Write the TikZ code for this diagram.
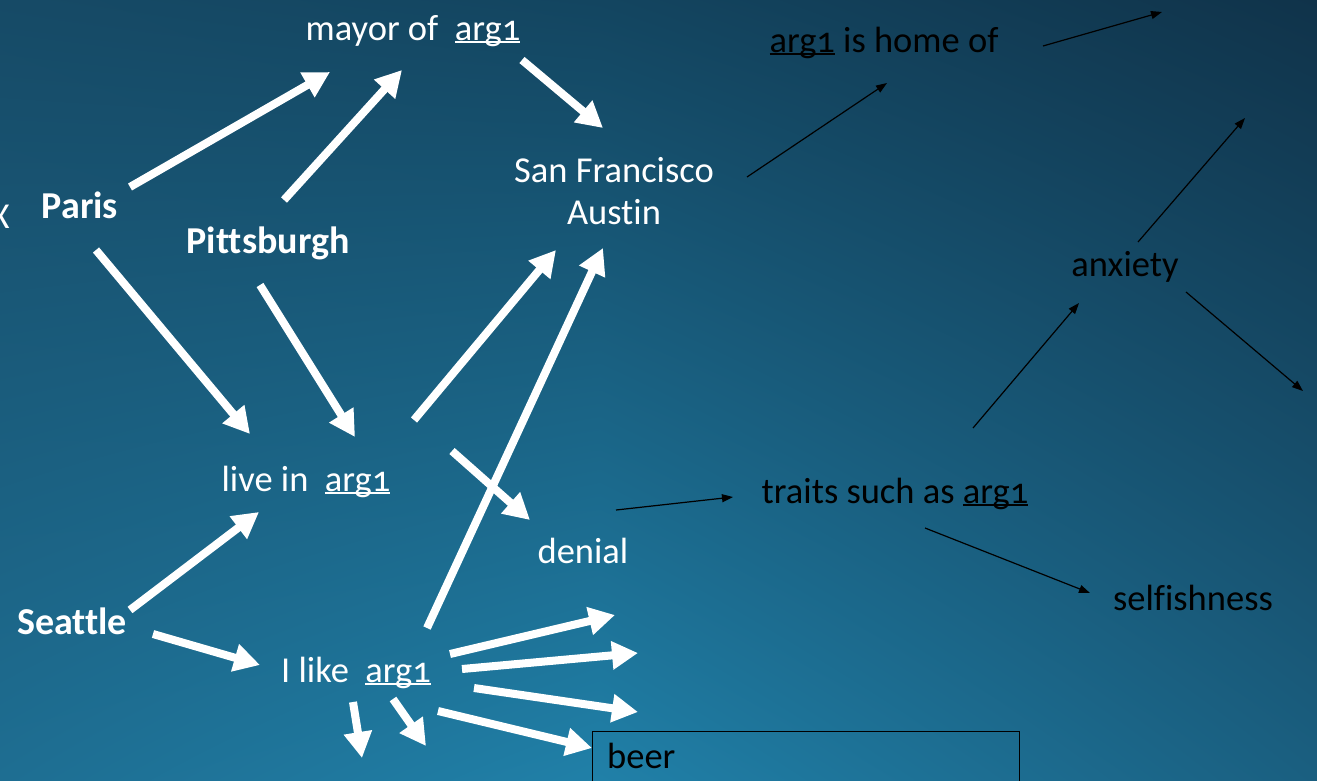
\documentclass[tikz,border=0pt]{standalone}
\usepackage{fontspec}
\setmainfont{Carlito}[Numbers=OldStyle, Ligatures=CommonOff]
\usetikzlibrary{arrows.meta,shadings}
\definecolor{bgUL}{HTML}{164A66}
\definecolor{bgUM}{HTML}{134560}
\definecolor{bgUR}{HTML}{10334A}
\definecolor{bgLL}{HTML}{1E6E92}
\definecolor{bgLM}{HTML}{2080A8}
\definecolor{bgLR}{HTML}{1A5F80}
\newcommand\argu{\setbox0\hbox{arg1}\rlap{\rule[-0.09em]{\wd0}{0.06em}}\box0}
\begin{document}
\begin{tikzpicture}[x=1pt,y=-1pt,
  lbl/.style={inner sep=0pt, anchor=base, text=white, font=\fontsize{36.5}{42}\selectfont},
  blbl/.style={lbl, font=\fontsize{38}{44}\selectfont\bfseries},
  dlbl/.style={lbl, text=black},
  warrow/.style={draw=white, line width=8pt, -{Triangle[length=26pt,width=27pt]}},
  barrow/.style={draw=black, line width=1.2pt, -{Triangle[length=11pt,width=8pt]}}]
\useasboundingbox (0,0) rectangle (1317,780);
\shade[upper left=bgUL, upper right=bgUM, lower left=bgLL, lower right=bgLM] (0,0) rectangle (600,780);
\shade[upper left=bgUM, upper right=bgUR, lower left=bgLM, lower right=bgLR] (600,0) rectangle (1317,780);

% text nodes
\node[lbl] (x) at (0,228) {X};
\node[lbl] (mayor) at (413,40) {mayor of~~\argu};
\node[dlbl] (home) at (884,52) {\argu{} is home of};
\node[lbl] (sf) at (614,182) {San Francisco};
\node[lbl] (austin) at (614,224) {Austin};
\node[blbl] (paris) at (80,218) {Paris};
\node[blbl] (pitt) at (268,253) {Pittsburgh};
\node[dlbl] (anx) at (1125,276) {anxiety};
\node[lbl] (live) at (306,491) {live in~~\argu};
\node[lbl] (denial) at (583,563) {denial};
\node[dlbl] (traits) at (895,503) {traits such as \argu};
\node[dlbl] (selfish) at (1193,610) {selfishness};
\node[blbl] (seattle) at (72,634) {Seattle};
\node[lbl] (ilike) at (356,682) {I like~~\argu};
\node[draw=black, line width=1.3pt, minimum width=427pt, minimum height=60pt, anchor=north west, inner sep=0pt] (box) at (592,731) {};
\node[dlbl, anchor=base west] (beer) at (607,768) {beer};

% endpoints
\foreach \n/\px/\py in {
 a1/130/187, a2/330/72, b1/284/200, b2/402/70, c1/522/60, c2/603/128,
 d1/96/250, d2/250/434, e1/260/285, e2/355/437, f1/414/420, f2/556/250,
 g1/427/628, g2/603/248, h1/452/451, h2/530/520, i1/130/610, i2/259/512,
 j1/153/634, j2/260/665, k1/450/654, k2/615/615, l1/462/669, l2/638/653,
 m1/474/688, m2/638/712, n1/438/711, n2/592/748, o1/353/702, o2/362/758,
 p1/393/699, p2/426/746,
 q1/747/177, q2/887/83, r1/1043/46, r2/1162/12, s1/1138/242, s2/1245/118,
 t1/1186/292, t2/1303/391, u1/973/428, u2/1079/303, v1/616/510, v2/733/497,
 w1/925/528, w2/1090/593}
 {\coordinate (\n) at (\px,\py);}

% white arrows
\foreach \s/\t in {a1/a2,b1/b2,c1/c2,d1/d2,e1/e2,f1/f2,g1/g2,h1/h2,i1/i2,j1/j2,k1/k2,l1/l2,m1/m2,n1/n2,o1/o2,p1/p2}
 {\draw[warrow] (\s) -- (\t);}
% black arrows
\foreach \s/\t in {q1/q2,r1/r2,s1/s2,t1/t2,u1/u2,v1/v2,w1/w2}
 {\draw[barrow] (\s) -- (\t);}
\end{tikzpicture}
\end{document}
